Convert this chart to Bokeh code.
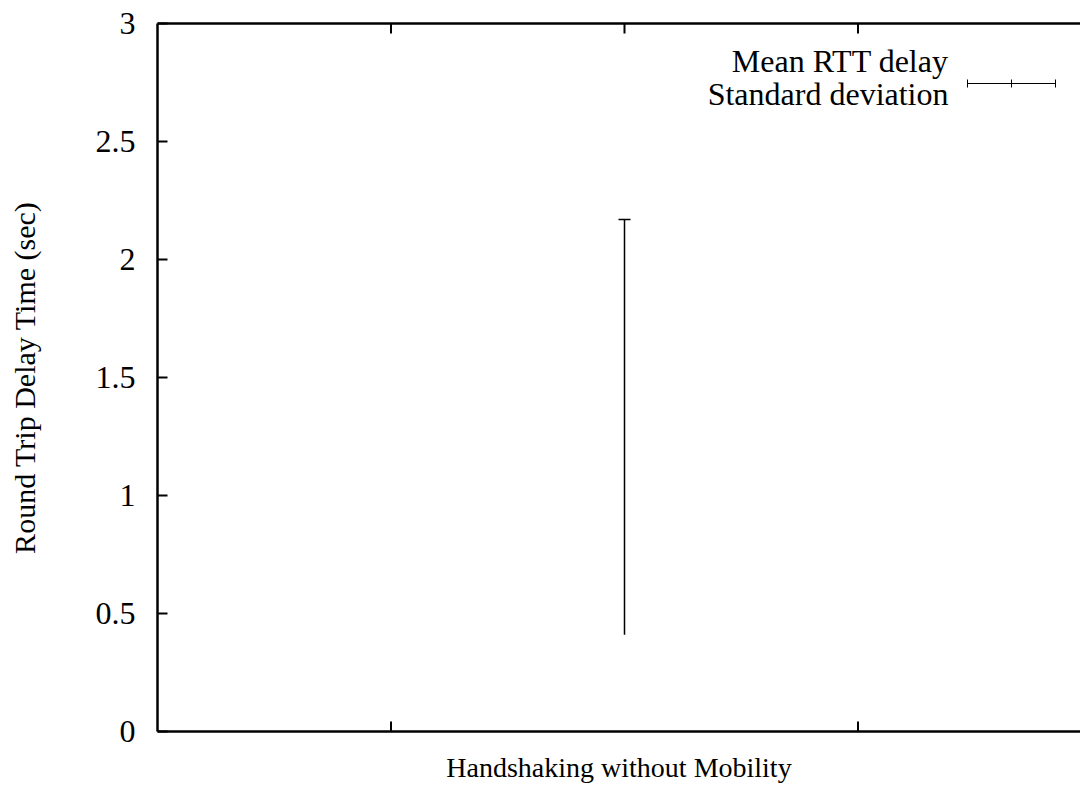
from bokeh.plotting import figure
from bokeh.models import (Range1d, FixedTicker, LinearAxis, Whisker, TeeHead,
                          ColumnDataSource, Label)
from bokeh.embed import file_html
from bokeh.resources import INLINE

# ---- data ----
categories = ["Handshaking without Mobility"]
positions = [2]
mean_rtt = [1.29]
std_dev = [0.88]
y_ticks = [0, 0.5, 1, 1.5, 2, 2.5, 3]
y_tick_labels = ["0", "0.5", "1", "1.5", "2", "2.5", "3"]
bottom_x_ticks = [1, 3]
top_x_ticks = [1, 2, 3]

FONT = "Liberation Serif"

W, H = 1080, 797
LEFT, TOP, BOTTOM = 157, 23, 66
XPX = 233.5  # pixels per x unit
x_end = (W - LEFT) / XPX
ypx = (H - TOP - BOTTOM) / 3.0

def dx(px):
    return (px - LEFT) / XPX

def dy(py):
    return (H - BOTTOM - py) / ypx

p = figure(width=W, height=H, output_backend="svg", toolbar_location=None,
           x_range=Range1d(0, x_end), y_range=Range1d(0, 3),
           min_border_left=LEFT, min_border_right=0, min_border_top=TOP,
           min_border_bottom=BOTTOM, outline_line_color=None,
           background_fill_color="white", border_fill_color="white")
p.xgrid.visible = False
p.ygrid.visible = False

# left axis
ya = p.yaxis[0]
ya.ticker = FixedTicker(ticks=y_ticks)
ya.major_label_overrides = {t: l for t, l in zip(y_ticks, y_tick_labels)}
ya.major_tick_in = 10
ya.major_tick_out = 0
ya.minor_tick_in = 0
ya.minor_tick_out = 0
ya.major_tick_line_width = 2
ya.axis_line_width = 2.5
ya.major_label_standoff = 22
ya.major_label_text_font = FONT
ya.major_label_text_font_size = "32px"
ya.major_label_text_color = "black"
ya.axis_label = "Round Trip Delay Time (sec)"
ya.axis_label_text_font = FONT
ya.axis_label_text_font_size = "30px"
ya.axis_label_text_font_style = "normal"
ya.axis_label_text_color = "black"
ya.axis_label_standoff = 52

# bottom axis (line + title only; ticks drawn below)
xa = p.xaxis[0]
xa.ticker = FixedTicker(ticks=[])
xa.minor_tick_in = 0
xa.minor_tick_out = 0
xa.major_tick_out = 0
xa.axis_line_width = 2.5
xa.major_label_standoff = 0
xa.axis_label = "Handshaking without Mobility"
xa.axis_label_text_font = FONT
xa.axis_label_text_font_size = "28px"
xa.axis_label_text_font_style = "normal"
xa.axis_label_text_color = "black"
xa.axis_label_standoff = 20

# top axis (mirror line)
ta = LinearAxis(ticker=FixedTicker(ticks=[]), major_tick_in=0,
                major_tick_out=0, minor_tick_in=0, minor_tick_out=0,
                axis_line_width=2.5, major_label_standoff=0)
p.add_layout(ta, "above")

# inward x tick marks
tick_len = 10 / ypx
p.segment(x0=bottom_x_ticks, y0=[0] * len(bottom_x_ticks),
          x1=bottom_x_ticks, y1=[tick_len] * len(bottom_x_ticks),
          line_color="black", line_width=2)
p.segment(x0=top_x_ticks, y0=[3] * len(top_x_ticks),
          x1=top_x_ticks, y1=[3 - tick_len] * len(top_x_ticks),
          line_color="black", line_width=2)

# error bars
upper = [m + s for m, s in zip(mean_rtt, std_dev)]
lower = [m - s for m, s in zip(mean_rtt, std_dev)]
src = ColumnDataSource(dict(x=positions, mean=mean_rtt, upper=upper, lower=lower))
wh = Whisker(source=src, base="x", upper="upper", lower="lower",
             line_width=1.5, line_color="black",
             upper_head=TeeHead(size=12, line_width=1.5, line_color="black"),
             lower_head=None)
p.add_layout(wh)

# legend (gnuplot style, text right-aligned with sample on right)
p.add_layout(Label(x=dx(948), y=dy(60), text="Mean RTT delay", text_align="right",
                   text_baseline="alphabetic", text_font=FONT, text_font_size="32px",
                   text_color="black"))
p.add_layout(Label(x=dx(948), y=dy(93), text="Standard deviation", text_align="right",
                   text_baseline="alphabetic", text_font=FONT, text_font_size="32px",
                   text_color="black"))
ly = dy(83)
cap = 4 / ypx
lx0, lx1, lxm = dx(967), dx(1055), dx(1011)
p.segment(x0=[lx0, lx0, lx1, lxm], y0=[ly, ly - cap, ly - cap, ly - cap],
          x1=[lx1, lx0, lx1, lxm], y1=[ly, ly + cap, ly + cap, ly + cap],
          line_color="black", line_width=1)

open("out.html", "w").write(file_html(p, INLINE))
